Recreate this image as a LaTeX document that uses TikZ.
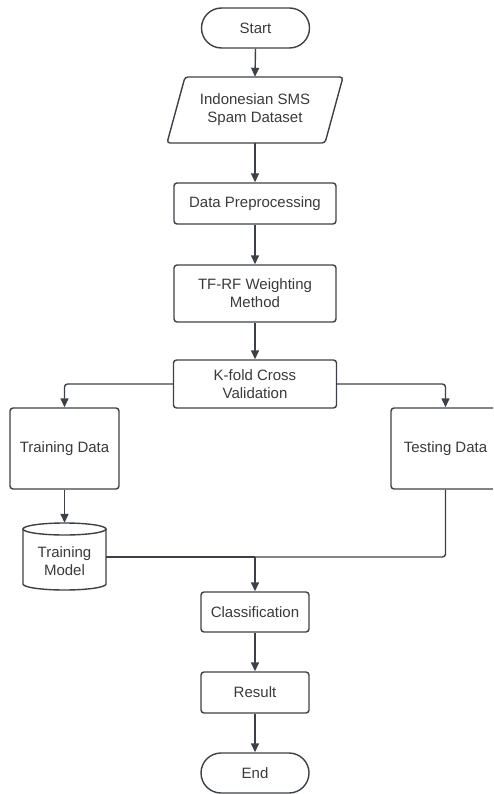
\documentclass[tikz,border=0pt]{standalone}
\usepackage{fontspec}
\setmainfont{Liberation Sans}
\usetikzlibrary{arrows.meta,calc}
\definecolor{ln}{HTML}{3C4048}
\definecolor{tx}{HTML}{3A3A3A}
\begin{document}
\begin{tikzpicture}[x=1pt,y=-1pt,
  every node/.style={font=\fontsize{15}{18}\selectfont, text=tx, align=center, inner sep=0pt},
  box/.style={draw=ln, line width=1.4pt, rounded corners=3pt, rectangle},
  term/.style={draw=ln, line width=1.4pt, rounded corners=20pt, rectangle, minimum width=108pt, minimum height=40pt},
  ghost/.style={rectangle},
  conn/.style={draw=ln, line width=1.4pt, rounded corners=3pt},
  arr/.style={conn, -{Triangle[length=9pt,width=8pt]}}]
\clip (0,0) rectangle (493,794);
\useasboundingbox (0,0) rectangle (493,794);
% nodes
\node[term] (start) at (255.5,28) {Start};
\draw[ln, line width=1.4pt, rounded corners=3pt] (185,77) -- (343,77) -- (325,143) -- (167,143) -- cycle;
\node[ghost, minimum width=158pt, minimum height=66pt] (ds) at (255,110) {Indonesian SMS\\Spam Dataset};
\node[box, minimum width=162pt, minimum height=41pt] (dp) at (255,203.5) {Data Preprocessing};
\node[box, minimum width=162pt, minimum height=57pt] (tf) at (255,293.5) {TF-RF Weighting\\Method};
\node[box, minimum width=163pt, minimum height=48pt] (kf) at (255,384) {K-fold Cross\\Validation};
\node[box, minimum width=109pt, minimum height=81pt] (td) at (64.5,448.5) {Training Data};
\node[box, minimum width=109pt, minimum height=81pt] (te) at (445.5,448.5) {Testing Data};
% cylinder
\draw[ln, line width=1.4pt] (23,529) -- (23,584) arc[start angle=180, end angle=0, x radius=41.5, y radius=6] -- (106,529);
\draw[ln, line width=1.4pt] (64.5,529) ellipse [x radius=41.5, y radius=6];
\node[ghost, minimum width=83pt, minimum height=67pt] (tm) at (64.5,556.5) {};
\node at (64.5,561) {Training\\Model};
\node[box, minimum width=108pt, minimum height=40pt] (cl) at (255,612) {Classification};
\node[box, minimum width=108pt, minimum height=41pt] (rs) at (255,692.5) {Result};
\node[term] (en) at (255,773) {End};
\coordinate (j) at (255,557);
% connectors
\draw[arr] (start.south) -- (ds.north);
\draw[arr] (ds.south) -- (dp.north);
\draw[arr] (dp.south) -- (tf.north);
\draw[arr] (tf.south) -- (kf.north);
\draw[arr] (kf.west) -| (td.north);
\draw[arr] (kf.east) -| (te.north);
\draw[arr] (td.south) -- (tm.north);
\draw[conn] (tm.east |- j) -- (j);
\draw[conn] (te.south) |- (j);
\draw[arr] (j) -- (cl.north);
\draw[arr] (cl.south) -- (rs.north);
\draw[arr] (rs.south) -- (en.north);
\end{tikzpicture}
\end{document}
